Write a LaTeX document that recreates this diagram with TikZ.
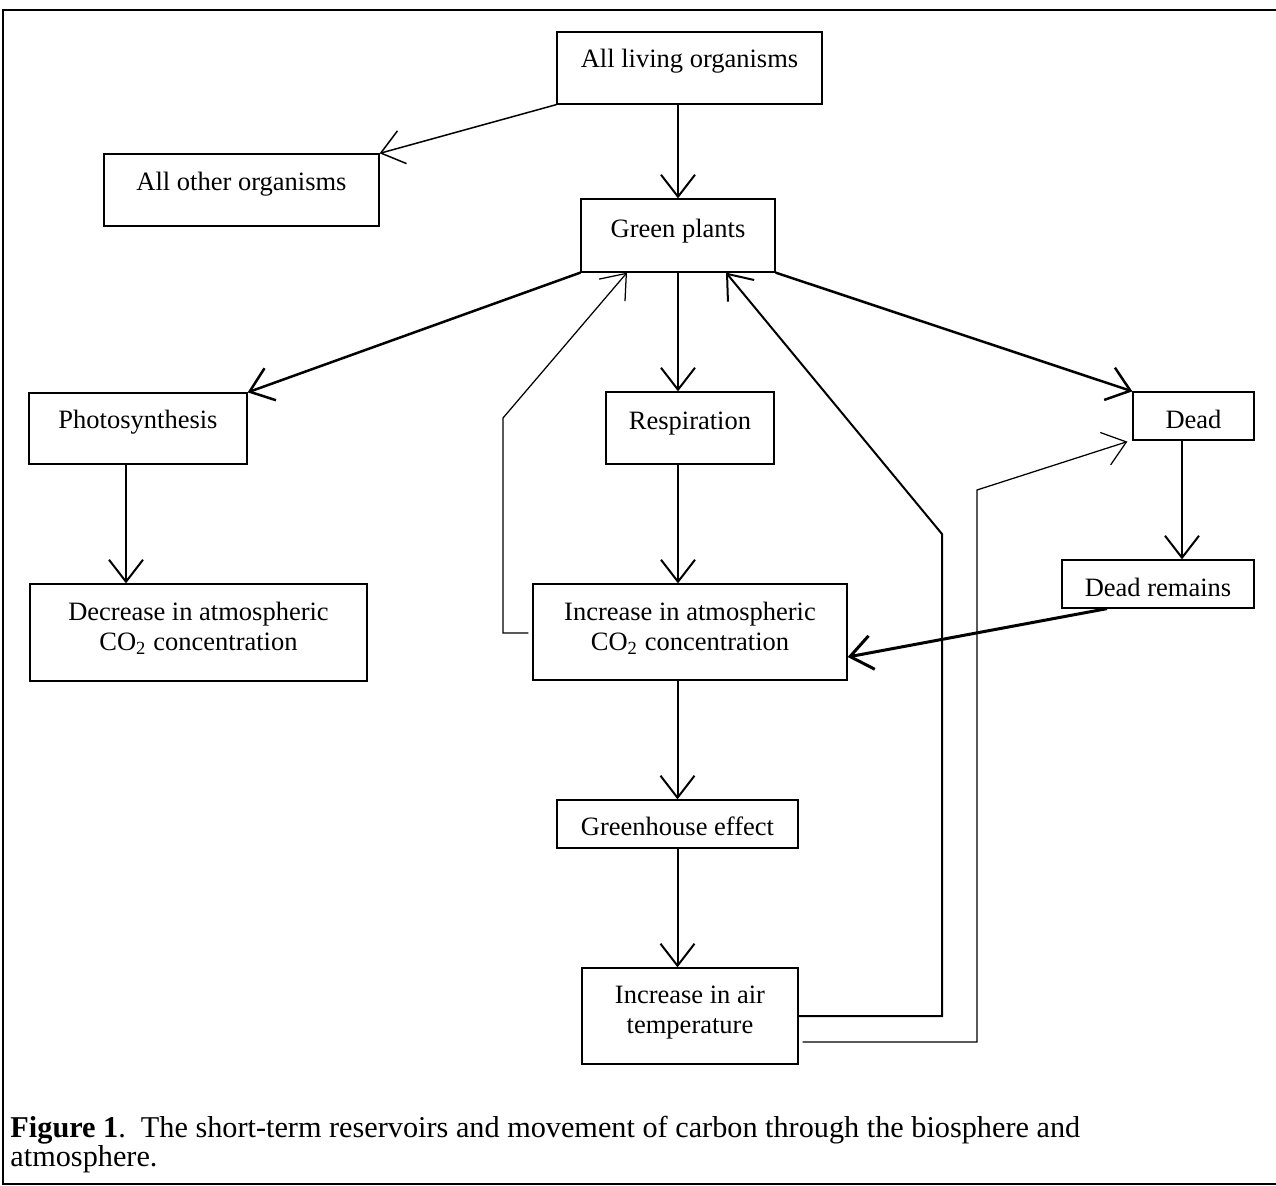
\documentclass[tikz,border=0pt]{standalone}
\usepackage{fontspec}
\setmainfont{Liberation Serif}
\usetikzlibrary{arrows.meta,fit,calc}

\begin{document}
\begin{tikzpicture}[x=0.4pt,y=-0.4pt,
    box/.style={draw,line width=0.5pt,inner sep=0pt},
    txt/.style={anchor=base,align=center,inner sep=0pt,font=\fontsize{10.6}{12}\selectfont},
    flow/.style={-{Straight Barb[length=8.8pt,width=13.6pt]},line width=0.8pt},
    thinflow/.style={flow,line width=0.5pt},
    boldflow/.style={flow,line width=1pt}]
    \useasboundingbox (0,0) rectangle (1276,1186);
    \draw [line width=1.1pt] (1276,10)--(3,10)--(3,1184)--(1276,1184);

    \node [box,fit={(557,32) (822,104)}] (alive) {};
    \node [txt] (aliveT) at (689.5,67) {All living organisms};
    \node [box,fit={(104,154) (379,226)}] (other) {};
    \node [txt] (otherT) at (241.5,190) {All other organisms};
    \node [box,fit={(581,199) (775,272)}] (green) {};
    \node [txt] (greenT) at (678,237) {Green plants};
    \node [box,fit={(29,393) (247,464)}] (photo) {};
    \node [txt] (photoT) at (138,428) {Photosynthesis};
    \node [box,fit={(606,392) (774,464)}] (resp) {};
    \node [txt] (respT) at (690,429) {Respiration};
    \node [box,fit={(1133,392) (1254,440)}] (dead) {};
    \node [txt] (deadT) at (1193.5,428) {Dead};
    \node [box,fit={(1062,560) (1254,608)}] (remains) {};
    \node [txt] (remainsT) at (1158,596) {Dead remains};
    \node [box,fit={(30,584) (367,681)}] (less) {};
    \node [txt] (lessT) at (198.5,650) {Decrease in atmospheric\\CO\textsubscript{2} concentration};
    \node [box,fit={(533,584) (847,680)}] (more) {};
    \node [txt] (moreT) at (690,650) {Increase in atmospheric\\CO\textsubscript{2} concentration};
    \node [box,fit={(557,800) (798,848)}] (greenhouse) {};
    \node [txt] (greenhouseT) at (677.5,835) {Greenhouse effect};
    \node [box,fit={(582,968) (798,1064)}] (warm) {};
    \node [txt] (warmT) at (690,1033) {Increase in air\\temperature};

    \coordinate (bendL) at (503,418);
    \coordinate (bendM) at (942,534);
    \coordinate (bendR) at (977,490);

    \draw [flow,line width=0.6pt] (alive.south west) -- (other.north east);
    \draw [flow] (green.north |- alive.south) -- (green.north);
    \draw [boldflow] (green.south west) -- (photo.north east);
    \draw [flow] (green.south) -- (green.south |- resp.north);
    \draw [boldflow] (green.south east) -- (dead.north west);
    \draw [flow] (photo.south) ++(-12,0) coordinate (p1) -- (p1 |- less.north);
    \draw [flow] (green.south |- resp.south) -- (green.south |- more.north);
    \draw [flow] (dead.south) ++(-11.5,0) coordinate (d1) -- (d1 |- remains.north);
    \draw [flow,line width=1.2pt] ($(remains.south)+(-51,0)$) -- ($(more.east)+(0,25)$);
    \draw [flow] (greenhouse.north |- more.south) -- (greenhouse.north);
    \draw [flow] (greenhouse.south) -- (greenhouse.south |- warm.north);
    \draw [thinflow] ($(more.west)+(-4,1)$) coordinate (m1) -- (bendL |- m1) -- (bendL) -- ($(green.south)+(-51,0)$);
    \draw [flow] (warm.east) -- (bendM |- warm.east) -- (bendM) -- ($(green.south)+(48,0)$);
    \draw [thinflow] ($(warm.east)+(4,26)$) coordinate (w1) -- (bendR |- w1) -- (bendR) -- ($(dead.south west)+(-5,1)$);

    \node [anchor=base west,align=left,inner sep=0pt,font=\fontsize{12.1}{11.4}\selectfont] (caption) at (10,1166)
        {\textbf{Figure 1}.\ \ The short-term reservoirs and movement of carbon through the biosphere and\\atmosphere.};
\end{tikzpicture}
\end{document}
